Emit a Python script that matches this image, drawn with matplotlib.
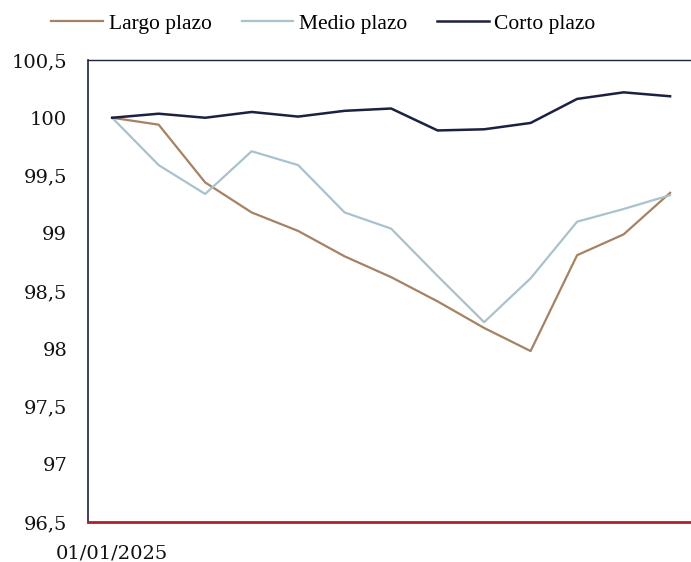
import matplotlib
matplotlib.use('Agg')
import matplotlib.pyplot as plt
from matplotlib.ticker import FuncFormatter, MultipleLocator
import numpy as np

# datos (indice base 100 a 01/01/2025)
fechas = ['01/01/2025'] + [''] * 12
largo_plazo = [100.0, 99.94, 99.44, 99.18, 99.02, 98.80, 98.62, 98.41, 98.18, 97.98, 98.81, 98.99, 99.35]
medio_plazo = [100.0, 99.59, 99.34, 99.71, 99.59, 99.18, 99.04, 98.63, 98.23, 98.61, 99.10, 99.21, 99.33]
corto_plazo = [100.0, 100.035, 100.0, 100.05, 100.01, 100.06, 100.08, 99.89, 99.90, 99.955, 100.163, 100.22, 100.186]

col_largo = '#a68262'
col_medio = '#a9c2cc'
col_corto = '#1b2140'

fig = plt.figure(figsize=(6.91, 5.62), dpi=100)
ax = fig.add_axes([88 / 691, 40 / 562, 603 / 691, 462 / 562])

x = np.arange(len(fechas))
ax.plot(x, largo_plazo, color=col_largo, lw=1.6, label='Largo plazo')
ax.plot(x, medio_plazo, color=col_medio, lw=1.6, label='Medio plazo')
ax.plot(x, corto_plazo, color=col_corto, lw=1.8, label='Corto plazo')

ax.set_ylim(96.5, 100.5)
ax.set_xlim(-0.52, 12.45)
ax.yaxis.set_major_locator(MultipleLocator(0.5))
ax.yaxis.set_major_formatter(FuncFormatter(lambda v, p: '{:g}'.format(v).replace('.', ',')))
ax.set_xticks(x)
ax.set_xticklabels(fechas)

for lab in ax.get_yticklabels() + ax.get_xticklabels():
    lab.set_fontfamily('DejaVu Serif')
    lab.set_fontsize(14)
ax.tick_params(axis='y', length=0, pad=15, colors='#111111')
ax.tick_params(axis='x', length=0, pad=16, colors='#111111')

ax.spines['right'].set_visible(False)
ax.spines['top'].set_color(col_corto)
ax.spines['top'].set_linewidth(1.0)
ax.spines['left'].set_color(col_corto)
ax.spines['left'].set_linewidth(1.2)
ax.spines['bottom'].set_color('#b0202c')
ax.spines['bottom'].set_linewidth(2.0)

fig.legend(loc='center', bbox_to_anchor=(0.468, 0.958), ncol=3, frameon=False,
           prop={'family': 'Liberation Serif', 'size': 15.5},
           handlelength=2.4, handletextpad=0.25, columnspacing=1.4)

fig.savefig('out.png', dpi=100)
